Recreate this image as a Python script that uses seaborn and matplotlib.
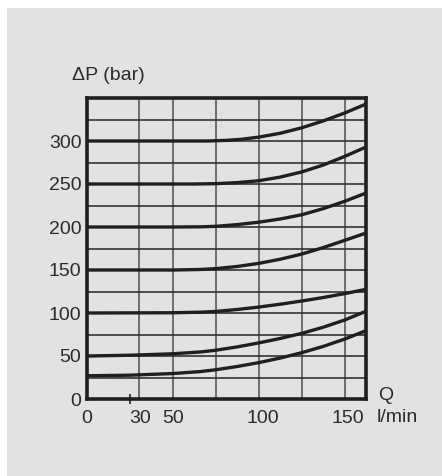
import matplotlib
matplotlib.use("Agg")
import matplotlib.pyplot as plt
import matplotlib.transforms as mtransforms
from matplotlib.patches import Rectangle
import seaborn as sns
import pandas as pd

# ---- data ----
q_300 = [0, 50, 70, 81, 90, 100, 112.5, 125, 137.5, 150, 162.5]
dp_300 = [300, 300, 300, 300.7, 302, 304.5, 309, 315.3, 323.3, 332.5, 343]
q_250 = [0, 62, 75, 87.5, 100, 112.5, 125, 137.5, 150, 162.5]
dp_250 = [250, 250, 250.4, 251.6, 253.8, 258, 264, 272, 282, 293]
q_200 = [0, 50, 66, 75, 87.5, 100, 112.5, 125, 137.5, 150, 162.5]
dp_200 = [200, 200, 200.2, 200.8, 202.8, 205.6, 209.3, 214.2, 221.3, 229.8, 239.5]
q_150 = [0, 50, 66, 75, 87.5, 100, 112.5, 125, 137.5, 150, 162.5]
dp_150 = [150, 150, 150.6, 151.6, 154.1, 157.7, 162.5, 168.5, 176, 184.4, 193]
q_100 = [0, 50, 66, 75, 87.5, 100, 112.5, 125, 137.5, 150, 162.5]
dp_100 = [100, 100.3, 100.9, 101.8, 104.1, 106.9, 110.2, 113.9, 118, 122.5, 127.5]
q_50 = [0, 25, 50, 66, 75, 87.5, 100, 112.5, 125, 137.5, 150, 162.5]
dp_50 = [50, 50.9, 52.6, 54.7, 56.7, 60.6, 65.2, 70.4, 76.3, 83.4, 91.8, 102]
q_27 = [0, 25, 50, 66, 75, 87.5, 100, 112.5, 125, 137.5, 150, 162.5]
dp_27 = [27, 27.7, 29.6, 31.9, 34, 37.8, 42.3, 47.6, 53.8, 61.1, 69.6, 79.5]

x_tick_vals = [0, 30, 50, 100, 150]
x_tick_labels = ["0", "30", "50", "100", "150"]
y_tick_vals = [0, 50, 100, 150, 200, 250, 300]
y_tick_labels = ["0", "50", "100", "150", "200", "250", "300"]
x_grid = [30, 50, 75, 100, 125, 150]
y_grid = [25, 50, 75, 100, 125, 150, 175, 200, 225, 250, 275, 300, 325]

curves = [(q_300, dp_300), (q_250, dp_250), (q_200, dp_200), (q_150, dp_150),
          (q_100, dp_100), (q_50, dp_50), (q_27, dp_27)]
rows = []
for i, (qs, ds) in enumerate(curves):
    for q, d in zip(qs, ds):
        rows.append({"curve": i, "Q": q, "dP": d})
df = pd.DataFrame(rows)

sns.set_theme(style="white")
plt.rcParams["font.family"] = ["Liberation Sans", "DejaVu Sans"]

BG = "#e1e2e4"
INK = "#1f1f1f"
TXT = "#2b2b2b"
FS = 14

W, H = 442, 476
fig = plt.figure(figsize=(W / 100, H / 100), dpi=100, facecolor="white")
fig.patches.append(Rectangle((7 / W, 0), 1 - 7 / W, 1 - 8 / H, transform=fig.transFigure,
                             facecolor=BG, edgecolor="none", zorder=-10))

ax = fig.add_axes([87 / W, 1 - 399 / H, (366 - 87) / W, (399 - 98) / H])
ax.set_facecolor(BG)
ax.set_xlim(0, 162.5)
ax.set_ylim(0, 350)

for g in x_grid:
    ax.axvline(g, color="#5a5a5a", lw=1.2, zorder=1)
for g in y_grid:
    ax.axhline(g, color="#333333", lw=1.2, zorder=1)

sns.lineplot(data=df, x="Q", y="dP", units="curve", estimator=None, sort=False,
             color=INK, lw=2.4, ax=ax, zorder=3)
for ln in ax.lines:
    ln.set_solid_joinstyle("round")

for s in ax.spines.values():
    s.set_visible(True)
    s.set_color(INK)
    s.set_linewidth(2.6)

ax.set_xticks(x_tick_vals)
ax.set_xticklabels(x_tick_labels)
ax.set_yticks(y_tick_vals)
ax.set_yticklabels(y_tick_labels)
ax.set_xticks([25], minor=True)
ax.tick_params(axis="both", which="major", length=0, labelsize=FS, colors=TXT)
ax.tick_params(axis="x", which="major", pad=8)
ax.tick_params(axis="y", which="major", pad=4)
ax.tick_params(axis="x", which="minor", length=7, width=1.2, color=INK, direction="inout",
               bottom=True)
ax.set_xlabel("")
ax.set_ylabel("")

# small right shifts of some x labels as in the reference
shifts = {"30": 1.5, "100": 4.5, "150": 3.5}
for lbl in ax.get_xticklabels():
    dx = shifts.get(lbl.get_text(), 0)
    if dx:
        lbl.set_transform(lbl.get_transform() + mtransforms.ScaledTranslation(dx / 100, 0, fig.dpi_scale_trans))

fig.text(72 / W, 1 - 75 / H, "\u0394P (bar)", fontsize=FS, color=TXT, ha="left", va="center")
fig.text(378 / W, 1 - 396 / H, "Q", fontsize=FS, color=TXT, ha="left", va="center")
fig.text(377 / W, 1 - 418 / H, "l/min", fontsize=FS, color=TXT, ha="left", va="center")

fig.savefig("out.png", dpi=100, facecolor="white")
